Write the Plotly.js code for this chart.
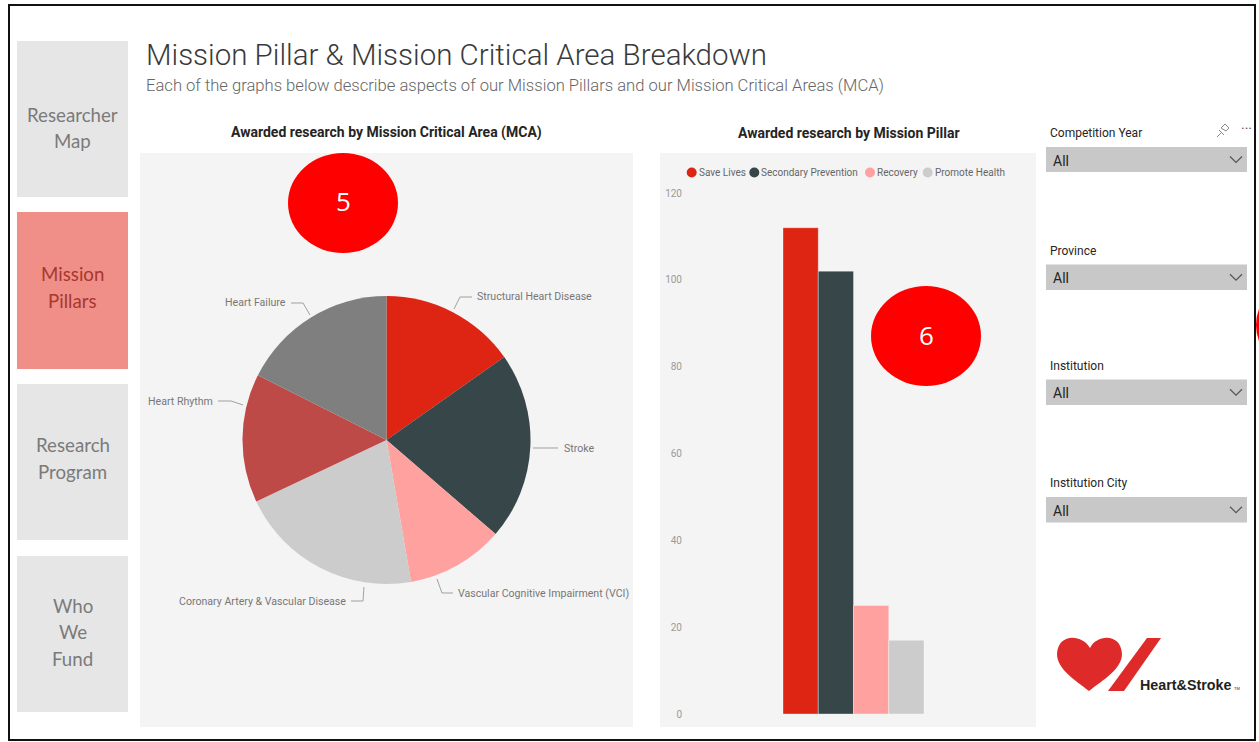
<!DOCTYPE html>
<html>
<head>
<meta charset="utf-8">
<script src="https://cdn.plot.ly/plotly-3.0.1.min.js"></script>
<style>
  html, body { margin: 0; padding: 0; background: #ffffff; }
  #chart { width: 1259px; height: 742px; }
</style>
</head>
<body>
<div id="chart"></div>
<script>
// ---------------- DATA ----------------
const mcaLabels = ['Structural Heart Disease', 'Stroke', 'Vascular Cognitive Impairment (VCI)',
                   'Coronary Artery & Vascular Disease', 'Heart Rhythm', 'Heart Failure'];
const mcaAwards = [39, 54, 28, 53, 37, 45];
const mcaColors = ['#DE2413', '#374649', '#FFA19E', '#CCCCCC', '#BE4A47', '#7F7F7F'];

const pillarNames = ['Save Lives', 'Secondary Prevention', 'Recovery', 'Promote Health'];
const pillarAwards = [112, 102, 25, 17];
const pillarColors = ['#DE2413', '#374649', '#FFA19E', '#CCCCCC'];
const pillarCategory = ['Mission Pillar'];
const yTickVals = [0, 20, 40, 60, 80, 100, 120];

const navItems = [['Researcher', 'Map'], ['Mission', 'Pillars'], ['Research', 'Program'], ['Who', 'We', 'Fund']];
const slicerLabels = ['Competition Year', 'Province', 'Institution', 'Institution City'];
const slicerValue = 'All';

// ---------------- HELPERS (page pixels -> paper) ----------------
const W = 1259, H = 742;
const fx = x => x / W;
const fy = y => 1 - y / H;
const FONT = 'Roboto, "Open Sans", sans-serif';

const shapes = [];
const annotations = [];

function rect(x0, y0, x1, y1, fill, layer, line) {
  shapes.push({type: 'rect', xref: 'paper', yref: 'paper',
    x0: fx(x0), x1: fx(x1), y0: fy(y1), y1: fy(y0),
    fillcolor: fill, line: line || {width: 0}, layer: layer || 'below'});
}
function ellipse(x0, y0, x1, y1, fill) {
  shapes.push({type: 'circle', xref: 'paper', yref: 'paper',
    x0: fx(x0), x1: fx(x1), y0: fy(y1), y1: fy(y0),
    fillcolor: fill, line: {width: 0}, layer: 'above'});
}
function path(pts, opts) {
  let d = '';
  pts.forEach(p => {
    d += p[0];
    for (let i = 1; i < p.length; i += 2) d += ' ' + fx(p[i]).toFixed(5) + ',' + fy(p[i + 1]).toFixed(5) + ' ';
  });
  shapes.push(Object.assign({type: 'path', xref: 'paper', yref: 'paper', path: d, layer: 'above'}, opts));
}
function txt(x, y, text, o) {
  o = o || {};
  annotations.push({xref: 'paper', yref: 'paper', x: fx(x), y: fy(y), text: text,
    showarrow: false, xanchor: o.xa || 'left', yanchor: 'middle', borderpad: 0,
    font: {family: o.family || FONT, size: o.size || 12, color: o.color || '#333', weight: o.weight || 400}});
}

// ---------------- PAGE FRAME & NAV ----------------
rect(9, 5, 1255, 740, 'rgba(0,0,0,0)', 'above', {color: '#111', width: 2});

const navBoxes = [[41, 197], [212, 369], [384, 540], [556, 712]];
const navLineY = [[115, 141], [274, 301], [445, 472], [606, 632, 659]];
navItems.forEach((lines, i) => {
  const active = i === 1;
  rect(17, navBoxes[i][0], 128, navBoxes[i][1], active ? '#EF8F88' : '#E6E6E6');
  lines.forEach((l, j) => {
    txt(72.5, navLineY[i][j], l,
      {xa: 'center', size: 18.7, color: active ? '#A8382F' : '#7A7A7A', family: 'Lato, "Open Sans", sans-serif'});
  });
});

// ---------------- TITLES ----------------
txt(145, 55, 'Mission Pillar & Mission Critical Area Breakdown', {size: 29.5, color: '#3A3A3A', weight: 300});
txt(145, 85, 'Each of the graphs below describe aspects of our Mission Pillars and our Mission Critical Areas (MCA)',
  {size: 16.6, color: '#666', weight: 300});

// ---------------- PANELS ----------------
rect(140, 153, 633, 727, '#F4F4F4');
rect(660, 153, 1036, 727, '#F4F4F4');
txt(386.5, 133, 'Awarded research by Mission Critical Area (MCA)', {xa: 'center', size: 14, color: '#252423', weight: 700});
txt(848.5, 133, 'Awarded research by Mission Pillar', {xa: 'center', size: 14, color: '#252423', weight: 700});

// ---------------- PIE LABELS (label layout positions) ----------------
const pieLabelLayout = [
  {pts: [[454, 309], [460, 297], [472, 297]], tx: 476, ty: 297, xa: 'left'},
  {pts: [[533, 448], [558, 448]], tx: 563, ty: 448, xa: 'left'},
  {pts: [[437, 579], [442, 593], [453, 593]], tx: 457, ty: 593, xa: 'left'},
  {pts: [[364, 587], [363, 601], [351, 601]], tx: 347, ty: 601, xa: 'right'},
  {pts: [[243, 405], [231, 401], [218, 401]], tx: 214, ty: 401, xa: 'right'},
  {pts: [[310, 315], [303, 303], [291, 303]], tx: 287, ty: 302, xa: 'right'}
];
mcaLabels.forEach((lab, i) => {
  const L = pieLabelLayout[i];
  path(L.pts.map((p, k) => [k === 0 ? 'M' : 'L', p[0], p[1]]), {line: {color: '#A0A0A0', width: 1}});
  txt(L.tx, L.ty, lab, {xa: L.xa, size: 10.6, color: '#777777'});
});

// ---------------- BAR LEGEND ----------------
const legendX = [691.7, 754.3, 870, 927.7];
pillarNames.forEach((n, i) => {
  ellipse(legendX[i] - 5, 167.5, legendX[i] + 5, 177.5, pillarColors[i]);
  txt(legendX[i] + 6, 172.5, n, {size: 10, color: '#666'});
});

// ---------------- RED CALLOUTS ----------------
ellipse(288, 153, 398, 253, '#FF0000');
txt(343, 201, '5', {xa: 'center', size: 26, color: '#FFFFFF', family: '"Open Sans", sans-serif'});
ellipse(871, 286, 981, 386, '#FF0000');
txt(926, 335, '6', {xa: 'center', size: 26, color: '#FFFFFF', family: '"Open Sans", sans-serif'});
ellipse(1256, 275, 1366, 375, '#FF0000');

// ---------------- SLICERS ----------------
const slicerLabelY = [132.5, 250.5, 365.5, 482.5];
const slicerBoxes = [[147, 172], [264.5, 290], [379.5, 405], [497, 522.5]];
slicerLabels.forEach((l, i) => {
  txt(1049, slicerLabelY[i], l, {size: 12, color: '#252423'});
  rect(1046, slicerBoxes[i][0], 1247, slicerBoxes[i][1], '#C8C8C8');
  const cy = (slicerBoxes[i][0] + slicerBoxes[i][1]) / 2;
  txt(1052, cy + 1, slicerValue, {size: 14, color: '#252423'});
  path([['M', 1230, cy - 3], ['L', 1236, cy + 3], ['L', 1242, cy - 3]], {line: {color: '#555', width: 1.2}});
});
// pin + ellipsis
path([['M', 1217, 137], ['L', 1221, 133], ['M', 1219, 130], ['L', 1224, 135], ['M', 1221, 128], ['L', 1225, 124],
      ['L', 1229, 128], ['L', 1226, 131], ['M', 1221, 128], ['L', 1226, 131]], {line: {color: '#888', width: 1}});
txt(1246, 129, '···', {xa: 'center', size: 14, color: '#555'});

// ---------------- LOGO ----------------
path([['M', 1090, 648], ['C', 1082, 634, 1058, 633, 1057, 654], ['C', 1057, 669, 1075, 680, 1089, 691],
      ['C', 1103, 680, 1122, 669, 1122, 654], ['C', 1121, 633, 1097, 634, 1090, 648], ['Z']],
     {fillcolor: '#DF2A2A', line: {width: 0}});
path([['M', 1147, 638], ['L', 1161, 638], ['L', 1124, 691], ['L', 1108, 691], ['Z']],
     {fillcolor: '#DF2A2A', line: {width: 0}});
txt(1139, 685, 'Heart&amp;Stroke', {size: 14.3, color: '#231F20', weight: 700, family: '"Liberation Sans", Arial, sans-serif'});
txt(1233, 688, 'TM', {size: 4, color: '#231F20', family: '"Liberation Sans", Arial, sans-serif'});

// ---------------- TRACES ----------------
const traces = [];
traces.push({
  type: 'pie', labels: mcaLabels, values: mcaAwards, sort: false, direction: 'clockwise', rotation: 0,
  marker: {colors: mcaColors, line: {width: 0}}, textinfo: 'none', hoverinfo: 'label+value',
  showlegend: false, automargin: false,
  domain: {x: [fx(242.5), fx(530.5)], y: [fy(584), fy(296)]}
});
pillarNames.forEach((n, i) => {
  traces.push({
    type: 'bar', name: n, x: pillarCategory, y: [pillarAwards[i]],
    marker: {color: pillarColors[i], line: {color: 'rgba(255,255,255,0.35)', width: 1}},
    showlegend: false, hoverinfo: 'name+y'
  });
});

const layout = {
  width: W, height: H,
  margin: {l: 0, r: 0, t: 0, b: 0, pad: 0},
  paper_bgcolor: '#FFFFFF', plot_bgcolor: 'rgba(0,0,0,0)',
  showlegend: false,
  barmode: 'group', bargap: 0.574, bargroupgap: 0,
  xaxis: {domain: [fx(688), fx(1019)], range: [-0.5, 0.5], showticklabels: false, showgrid: false,
          zeroline: false, showline: false, ticks: '', fixedrange: true},
  yaxis: {domain: [fy(714), fy(193)], range: [0, 120], tickvals: yTickVals, showgrid: false, zeroline: false,
          showline: false, ticks: '', ticklabelstandoff: 5,
          tickfont: {family: FONT, size: 10, color: '#9A9A9A'}, fixedrange: true},
  shapes: shapes,
  annotations: annotations
};

Plotly.newPlot('chart', traces, layout, {displayModeBar: false, staticPlot: true});
</script>
</body>
</html>
